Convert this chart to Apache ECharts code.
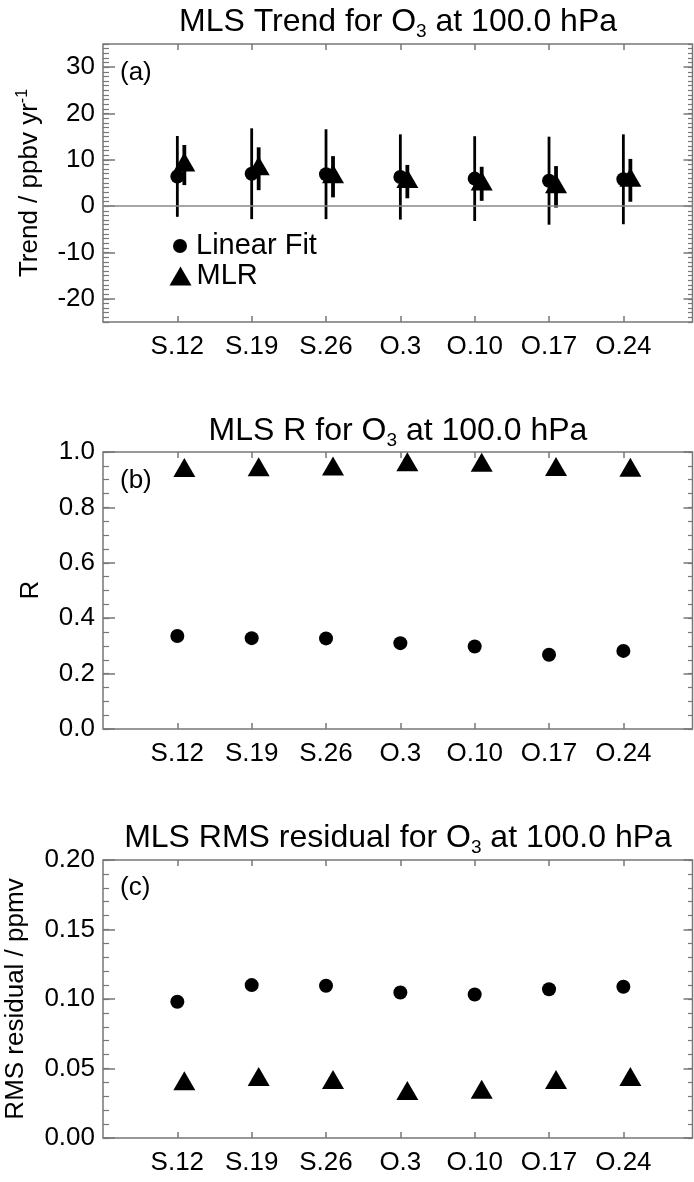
<!DOCTYPE html>
<html>
<head>
<meta charset="utf-8">
<script src="https://cdn.jsdelivr.net/npm/echarts@6/dist/echarts.min.js"></script>
<style>html,body{margin:0;padding:0;background:#fff}#c{width:694px;height:1182px}</style>
</head>
<body>
<div id="c"></div>
<script>
// ---- data ----
const categories = ['S.12', 'S.19', 'S.26', 'O.3', 'O.10', 'O.17', 'O.24'];
const linTrend     = [6.4, 7.0, 6.9, 6.3, 5.95, 5.5, 5.8];
const linTrendLow  = [-2.3, -2.8, -2.8, -2.9, -3.2, -4.0, -3.9];
const linTrendHigh = [15.15, 16.8, 16.6, 15.5, 15.1, 15.0, 15.5];
const mlrTrend     = [8.9, 8.1, 6.35, 5.3, 4.8, 4.2, 5.6];
const mlrTrendLow  = [4.55, 3.45, 1.9, 1.7, 1.15, -0.3, 0.95];
const mlrTrendHigh = [13.2, 12.7, 10.8, 8.9, 8.5, 8.65, 10.2];
const linR   = [0.336, 0.328, 0.327, 0.310, 0.298, 0.268, 0.282];
const mlrR   = [0.933, 0.936, 0.939, 0.954, 0.952, 0.937, 0.934];
const linRms = [0.098, 0.110, 0.1095, 0.1047, 0.1032, 0.107, 0.1088];
const mlrRms = [0.039, 0.042, 0.040, 0.032, 0.033, 0.040, 0.042];
const trendTicks = [-20, -10, 0, 10, 20, 30];
const rTicks = [0, 0.2, 0.4, 0.6, 0.8, 1.0];
const rmsTicks = [0, 0.05, 0.10, 0.15, 0.20];

// ---- styling ----
const FONT = '"Liberation Sans", Arial, Helvetica, sans-serif';
const GRAY = '#777';
const catIdx = categories.map((c, i) => i);
const MLR_DX = 7;     // horizontal pixel offset of MLR marks
const TRI_DY = -3;    // triangle drawn about its centroid

const panels = [
  { top: 44,  height: 278, min: -25, max: 35,  ticks: trendTicks, minor: 1,    fmt: v => String(v) },
  { top: 452, height: 277, min: 0,   max: 1,   ticks: rTicks,     minor: 0.05, fmt: v => v.toFixed(1) },
  { top: 860, height: 278, min: 0,   max: 0.2, ticks: rmsTicks,   minor: 0.01, fmt: v => v.toFixed(2) }
];

const grid = panels.map(p => ({
  left: 103, right: 1.5, top: p.top, height: p.height,
  show: true, borderColor: GRAY, borderWidth: 1.5, backgroundColor: 'transparent'
}));

const xAxis = [];
const yAxis = [];
panels.forEach((p, i) => {
  ['bottom', 'top'].forEach(pos => {
    xAxis.push({
      type: 'value', gridIndex: i, position: pos, min: -1, max: 6.93,
      axisLine: { show: false, onZero: false }, splitLine: { show: false },
      axisTick: { show: true, inside: true, length: 6, customValues: catIdx,
                  lineStyle: { color: GRAY, width: 1.5 } },
      axisLabel: { show: pos === 'bottom', customValues: catIdx,
                   formatter: v => categories[Math.round(v)] || '',
                   fontSize: 26, color: '#000', fontFamily: FONT, margin: 12 }
    });
  });
  // major left, major right, minor left, minor right
  [['left', 12, true], ['right', 9, false]].forEach(([pos, len, lab]) => {
    yAxis.push({
      type: 'value', gridIndex: i, position: pos, min: p.min, max: p.max,
      axisLine: { show: false, onZero: false }, splitLine: { show: false },
      axisTick: { show: true, inside: true, length: len, customValues: p.ticks,
                  lineStyle: { color: GRAY, width: 1.5 } },
      axisLabel: { show: lab, customValues: p.ticks, formatter: p.fmt,
                   fontSize: 26, color: '#000', fontFamily: FONT, margin: 8 }
    });
  });
  [['left', 6], ['right', 4.5]].forEach(([pos, len]) => {
    yAxis.push({
      type: 'value', gridIndex: i, position: pos, min: p.min, max: p.max, interval: p.minor,
      axisLine: { show: false, onZero: false }, splitLine: { show: false },
      axisTick: { show: true, inside: true, length: len, lineStyle: { color: GRAY, width: 1.2 } },
      axisLabel: { show: false }
    });
  });
});

function errBar(dx, w) {
  return function (params, api) {
    const x = api.value(0), lo = api.value(1), hi = api.value(2);
    const a = api.coord([x, lo]), b = api.coord([x, hi]);
    return { type: 'line', shape: { x1: a[0] + dx, y1: a[1], x2: b[0] + dx, y2: b[1] },
             style: { stroke: '#000', lineWidth: w } };
  };
}
const pts = vals => categories.map((c, i) => [i, vals[i]]);
const bars = (lo, hi) => categories.map((c, i) => [i, lo[i], hi[i]]);
const BLACK = { color: '#000', opacity: 1 };

function circles(gi, vals) {
  return { name: 'Linear Fit', type: 'scatter', xAxisIndex: 2 * gi, yAxisIndex: 4 * gi,
           symbol: 'circle', symbolSize: 14, itemStyle: BLACK,
           data: pts(vals), z: 3, silent: true };
}
function triangles(gi, vals) {
  return { name: 'MLR', type: 'scatter', xAxisIndex: 2 * gi, yAxisIndex: 4 * gi,
           symbol: 'triangle', symbolSize: [22, 19], symbolOffset: [MLR_DX, TRI_DY],
           itemStyle: BLACK, data: pts(vals), z: 4, silent: true };
}

const series = [
  { name: 'linErr', type: 'custom', xAxisIndex: 0, yAxisIndex: 0, renderItem: errBar(0, 2.8),
    encode: { x: 0, y: [1, 2] }, data: bars(linTrendLow, linTrendHigh), z: 2, silent: true,
    markLine: { silent: true, symbol: 'none', label: { show: false },
                lineStyle: { color: '#888', width: 1.5, type: 'solid', opacity: 1 }, data: [{ yAxis: 0 }] } },
  circles(0, linTrend),
  { name: 'mlrErr', type: 'custom', xAxisIndex: 0, yAxisIndex: 0, renderItem: errBar(MLR_DX, 3.8),
    encode: { x: 0, y: [1, 2] }, data: bars(mlrTrendLow, mlrTrendHigh), z: 3, silent: true },
  triangles(0, mlrTrend),
  circles(1, linR), triangles(1, mlrR),
  circles(2, linRms), triangles(2, mlrRms)
];

const titleRich = {
  m: { fontSize: 32, fontFamily: FONT, color: '#000', lineHeight: 40 },
  s: { fontSize: 19, fontFamily: FONT, color: '#000', lineHeight: 40, padding: [20, 0, 0, 0] }
};
function title(text, cy) {
  return { type: 'text', x: 398, y: cy, z: 10,
           style: { text: text, rich: titleRich, align: 'center', verticalAlign: 'middle' } };
}
function ylabel(text, cx, cy, rich) {
  return { type: 'text', x: cx, y: cy, rotation: Math.PI / 2, z: 10,
           style: { text: text, rich: rich, fontSize: 26, fontFamily: FONT, fill: '#000',
                    align: 'center', verticalAlign: 'middle' } };
}
function plabel(text, x, cy) {
  return { type: 'text', x: x, y: cy, z: 10,
           style: { text: text, fontSize: 26, fontFamily: FONT, fill: '#000',
                    align: 'left', verticalAlign: 'middle' } };
}
const yRich = {
  m: { fontSize: 26, fontFamily: FONT, color: '#000', lineHeight: 30 },
  s: { fontSize: 16, fontFamily: FONT, color: '#000', lineHeight: 30, padding: [0, 0, 14, 0] }
};

const option = {
  animation: false,
  backgroundColor: '#fff',
  textStyle: { fontFamily: FONT },
  grid, xAxis, yAxis, series,
  legend: [
    { data: ['Linear Fit'], left: 173, top: 231, orient: 'vertical', padding: 0,
      itemWidth: 14, itemHeight: 14, icon: 'circle', selectedMode: false,
      itemStyle: { color: '#000', opacity: 1 },
      textStyle: { fontSize: 29, color: '#000', fontFamily: FONT, lineHeight: 30, padding: [0, 0, 0, 4] } },
    { data: ['MLR'], left: 169.5, top: 261, orient: 'vertical', padding: 0,
      itemWidth: 22, itemHeight: 19, icon: 'triangle', selectedMode: false,
      itemStyle: { color: '#000', opacity: 1 },
      textStyle: { fontSize: 29, color: '#000', fontFamily: FONT, lineHeight: 30, padding: [0, 0, 0, 0] } }
  ],
  graphic: [
    title('{m|MLS Trend for O}{s|3}{m| at 100.0 hPa}', 22),
    title('{m|MLS R for O}{s|3}{m| at 100.0 hPa}', 431),
    title('{m|MLS RMS residual for O}{s|3}{m| at 100.0 hPa}', 838),
    ylabel('{m|Trend / ppbv yr}{s|-1}', 30, 183, yRich),
    ylabel('R', 31, 590),
    ylabel('RMS residual / ppmv', 16, 999),
    plabel('(a)', 120, 73),
    plabel('(b)', 120, 481),
    plabel('(c)', 120, 888)
  ]
};

const chart = echarts.init(document.getElementById('c'), null, { renderer: 'canvas' });
chart.setOption(option);
</script>
</body>
</html>
